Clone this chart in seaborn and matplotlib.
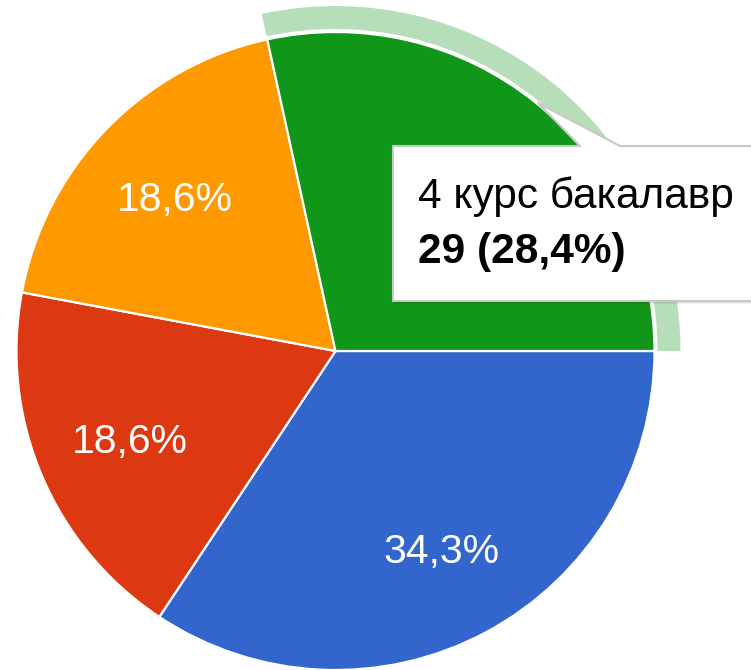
import matplotlib
matplotlib.use('Agg')
import matplotlib.pyplot as plt
import seaborn as sns
from matplotlib.patches import Wedge, Polygon

# slice data, clockwise from 3 o'clock (as in the Google Forms chart)
categories = ['3 курс бакалавр', '2 курс бакалавр', '1 курс бакалавр', '4 курс бакалавр']
counts = [35, 19, 19, 29]
colors = ['#3366cc', '#dc3912', '#ff9900', '#109618']
highlight = 3  # the hovered slice (tooltip + ring)

sns.set_theme(style='white')
plt.rcParams['font.family'] = ['Liberation Sans', 'DejaVu Sans']

W, H = 751, 670
fig = plt.figure(figsize=(W / 100, H / 100), dpi=100)
ax = fig.add_axes([0, 0, 1, 1])
ax.set_aspect('equal')
ax.axis('off')

cx, cy, R = 335.5, H - 351, 319
total = sum(counts)


def pct_fmt(p):
    return f'{p:.1f}%'.replace('.', ',')


wedges, texts, autotexts = ax.pie(
    counts, colors=sns.color_palette(colors), startangle=0, counterclock=False,
    center=(cx, cy), radius=R, autopct=pct_fmt, pctdistance=0.70,
    wedgeprops=dict(edgecolor='white', linewidth=1.6),
    textprops=dict(color='white', fontsize=29.5))
ax.set_xlim(0, W)
ax.set_ylim(0, H)
for t in autotexts:
    t.set_va('center_baseline')
# the hovered slice's label sits under the tooltip
autotexts[highlight].set_visible(False)

# light ring around the hovered slice
hw = wedges[highlight]
ring = Wedge((cx, cy), R + 26, hw.theta1, hw.theta2, width=23,
             facecolor=colors[highlight], alpha=0.3, edgecolor='none')
ax.add_patch(ring)

# tooltip box with pointer
left, right, top, bottom = 393, W + 10, H - 146, H - 301
outline = [(left, top), (580, top), (538, H - 103), (620, top), (right, top),
           (right, bottom), (left, bottom)]
shadow = Polygon([(x + 1, y - 2.5) for x, y in outline], closed=True,
                 facecolor='#000000', alpha=0.12, edgecolor='none', zorder=5)
box = Polygon(outline, closed=True, facecolor='white', edgecolor='#c8c8c8',
              linewidth=1.5, joinstyle='round', zorder=6)
ax.add_patch(shadow)
ax.add_patch(box)

share = counts[highlight] / total * 100
ax.text(418, H - 208, categories[highlight], fontsize=30.5, color='#000000',
        va='baseline', ha='left', zorder=7)
ax.text(418, H - 263, f'{counts[highlight]} ({pct_fmt(share)})', fontsize=30.5,
        fontweight='bold', color='#000000', va='baseline', ha='left', zorder=7)

fig.savefig('out.png', dpi=100)
